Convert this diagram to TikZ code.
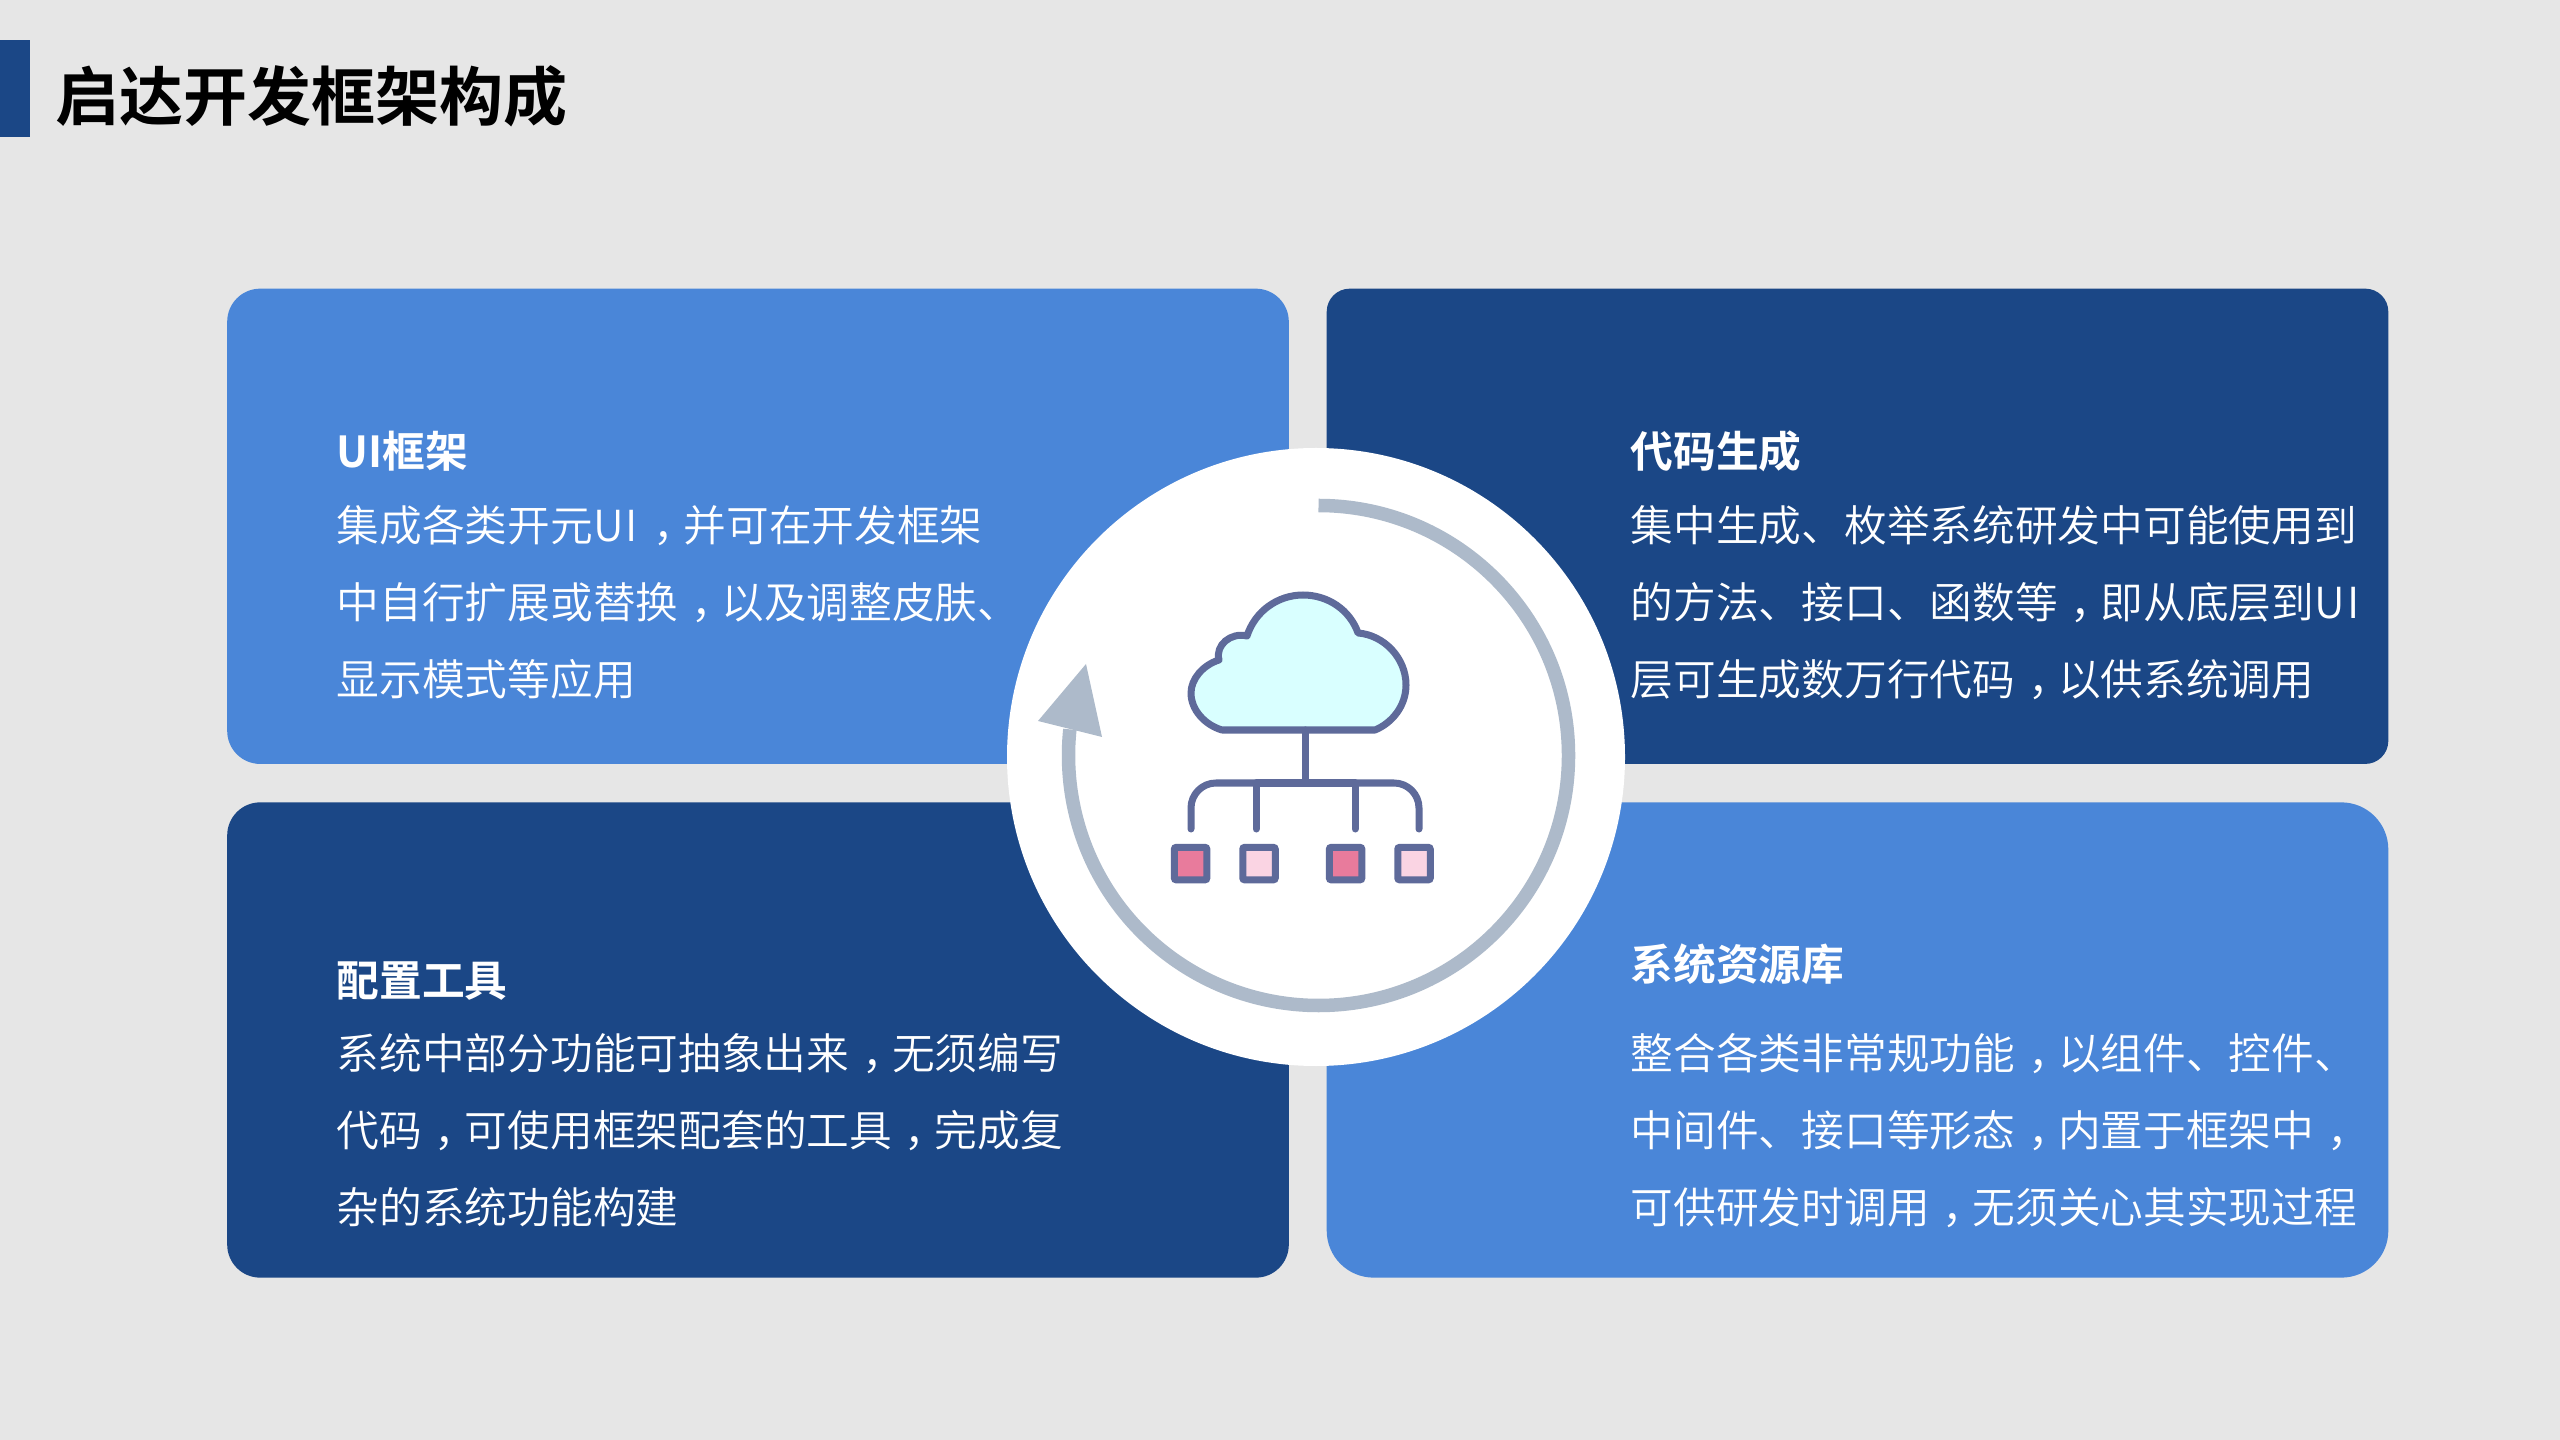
\documentclass[tikz,border=0pt]{standalone}
\usepackage{fontspec}
\setmainfont{Noto Sans CJK SC}[UprightFont={* DemiLight},BoldFont={* Bold}]
\definecolor{pagegrey}{HTML}{E6E6E6}
\definecolor{lightblue}{HTML}{4A86D8}
\definecolor{darkblue}{HTML}{1B4786}
\definecolor{ringgrey}{HTML}{ADBACA}
\definecolor{iconline}{HTML}{5E6A9A}
\definecolor{cloudfill}{HTML}{D9FFFF}
\definecolor{leafdeep}{HTML}{E87B9C}
\definecolor{leafpale}{HTML}{FAD4E3}
% comma sits in the middle of its cell
\newcommand{\midcomma}{\kern0.3em，\kern-0.3em}
\newcommand{\wideui}{U\kern0.05em I\kern0.065em}

\begin{document}
\begin{tikzpicture} [x=0.01cm, y=-0.01cm]
    \tikzstyle{card} = [rectangle,inner sep=0pt,minimum width=10.61cm,minimum height=4.75cm]
    \tikzstyle{body} = [anchor=base west,inner sep=0pt,text=white,font=\fontsize{12.15}{14}\selectfont]
    \tikzstyle{head} = [body,font=\fontsize{12.15}{14}\selectfont\bfseries]
    \tikzstyle{icon line} = [draw=iconline,line width=0.07cm,line cap=round,line join=round]
    \tikzstyle{leaf} = [rectangle,draw=iconline,line width=0.07cm,rounded corners=0.02cm,inner sep=0pt,minimum size=0.325cm]

      \useasboundingbox (0,0) rectangle (2560,1440);
      \fill[pagegrey] (0,0) rectangle (2560,1440);
      \fill[darkblue] (0,40) rectangle (30,137);
      \node[anchor=base west,inner sep=0pt,font=\fontsize{18.2}{20}\selectfont\bfseries] (title) at (55,120.5) {启达开发框架构成};

      \node[card,fill=lightblue,rounded corners=0.33cm] (ui)   at (758,526.3)    {};
      \node[card,fill=darkblue,rounded corners=0.23cm]  (code) at (1857.5,526.3) {};
      \node[card,fill=darkblue,rounded corners=0.33cm]  (tool) at (758,1040)     {};
      \node[card,fill=lightblue,rounded corners=0.47cm] (res)  at (1857.5,1040)  {};

      \fill[white] (1316,757) circle [radius=309];

      % ring and its arrow head
      \draw[ringgrey,line width=0.135cm] (1318.5,505.5) arc [start angle=-90,end angle=186,x radius=250,y radius=250];
      \fill[ringgrey] (1086,664) -- (1038,721) -- (1102,737) -- cycle;

      % cloud
      \draw[icon line,fill=cloudfill] (1222,730) -- (1375,730)
        .. controls (1392,723) and (1406,706) .. (1406,685)
        .. controls (1406,658) and (1384,635) .. (1358,633)
        .. controls (1350,610) and (1328,595) .. (1303,595)
        .. controls (1278,595) and (1255,611) .. (1247,636)
        .. controls (1231,632) and (1215,645) .. (1219,660)
        .. controls (1203,665) and (1191,679) .. (1191,693)
        .. controls (1191,710) and (1205,725) .. (1222,730) -- cycle;

      \coordinate (root) at (1305,730);
      \coordinate (bus)  at (1305,783);
      \coordinate (end1) at (1191,829);
      \coordinate (end2) at (1256,829);
      \coordinate (end3) at (1355,829);
      \coordinate (end4) at (1419,829);

      \draw[icon line] (root) -- (bus);
      \draw[icon line,rounded corners=0.25cm] (end1) |- (bus) -| (end4);
      \draw[icon line] (end2) |- (bus);
      \draw[icon line] (end3) |- (bus);

      \node[leaf,fill=leafdeep] (leaf1) at (1190.6,863.6) {};
      \node[leaf,fill=leafpale] (leaf2) at (1259,863.6)   {};
      \node[leaf,fill=leafdeep] (leaf3) at (1345.6,863.6) {};
      \node[leaf,fill=leafpale] (leaf4) at (1414,863.6)   {};

      \node[head] (ui0) at (336,468) {UI框架};
      \node[body] (ui1) at (336,542) {集成各类开元\wideui\midcomma 并可在开发框架};
      \node[body] (ui2) at (336,618.5) {中自行扩展或替换\midcomma 以及调整皮肤、};
      \node[body] (ui3) at (336,695.5) {显示模式等应用};

      \node[head] (code0) at (1630,468) {代码生成};
      \node[body] (code1) at (1630,542) {集中生成、枚举系统研发中可能使用到};
      \node[body] (code2) at (1630,618.5) {的方法、接口、函数等\midcomma 即从底层到\wideui};
      \node[body] (code3) at (1630,695.5) {层可生成数万行代码\midcomma 以供系统调用};

      \node[head] (tool0) at (336,996)    {配置工具};
      \node[body] (tool1) at (336,1069.5) {系统中部分功能可抽象出来\midcomma 无须编写};
      \node[body] (tool2) at (336,1146.5) {代码\midcomma 可使用框架配套的工具\midcomma 完成复};
      \node[body] (tool3) at (336,1223)   {杂的系统功能构建};

      \node[head] (res0) at (1630,981)    {系统资源库};
      \node[body] (res1) at (1630,1069.5) {整合各类非常规功能\midcomma 以组件、控件、};
      \node[body] (res2) at (1630,1146.5) {中间件、接口等形态\midcomma 内置于框架中\midcomma };
      \node[body] (res3) at (1630,1223)   {可供研发时调用\midcomma 无须关心其实现过程};
    \end{tikzpicture}
\end{document}
